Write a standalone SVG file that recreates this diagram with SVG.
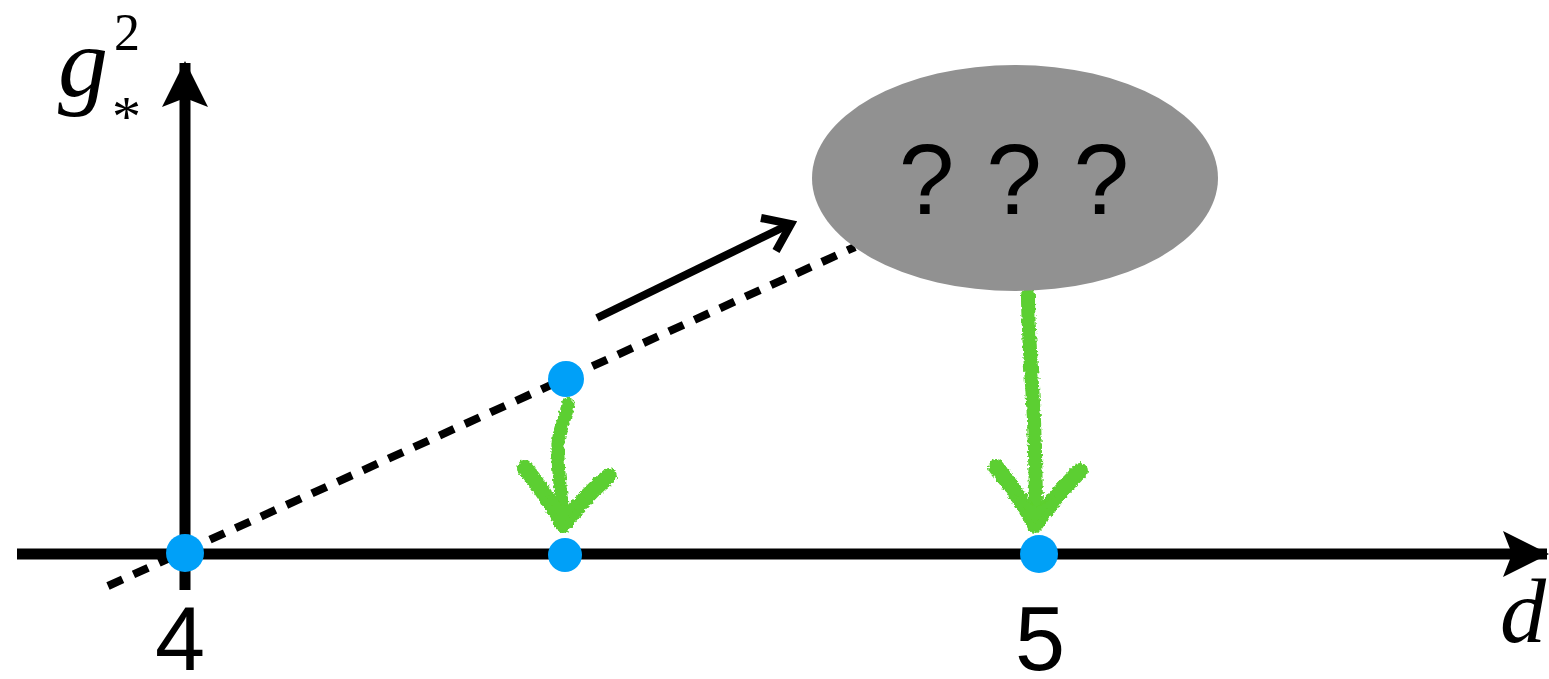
<svg xmlns="http://www.w3.org/2000/svg" width="1549" height="679" viewBox="0 0 1549 679">
  <style>
    .axis { stroke: #000; stroke-width: 11; fill: none; }
    .dot { fill: #00A0F8; }
    .chalk { stroke: #5CCF30; fill: none; stroke-linecap: round; stroke-linejoin: round; }
    .chalk-fill { fill: #5CCF30; }
    .math { font-family: "Liberation Serif", "DejaVu Serif", serif; fill: #000; }
    .it { font-style: italic; }
    .num { font-family: "Liberation Sans", Arial, sans-serif; fill: #000; }
  </style>
  <defs>
    <marker id="axisHead" viewBox="0 0 46 46" refX="44" refY="23" markerUnits="userSpaceOnUse" markerWidth="46" markerHeight="46" orient="auto">
      <path d="M0,0 L46,23 L0,46 L9,23 Z" fill="#000"/>
    </marker>
    <filter id="rough" x="-20%" y="-20%" width="140%" height="140%">
      <feTurbulence type="fractalNoise" baseFrequency="0.35" numOctaves="2" seed="3" result="n"/>
      <feDisplacementMap in="SourceGraphic" in2="n" scale="5" xChannelSelector="R" yChannelSelector="G"/>
    </filter>
  </defs>

  <!-- axes -->
  <g id="axes">
    <line class="axis" x1="17" y1="554" x2="1547" y2="554" marker-end="url(#axisHead)"/>
    <line class="axis" x1="185" y1="590" x2="185" y2="63" marker-end="url(#axisHead)"/>
  </g>

  <!-- connectors -->
  <g id="connectors">
    <line x1="108" y1="586" x2="855" y2="247" stroke="#000" stroke-width="8" stroke-dasharray="16 12"/>
    <g stroke="#000" stroke-width="8" fill="none" stroke-linecap="butt" stroke-linejoin="miter">
      <line x1="597" y1="318" x2="790" y2="224"/>
      <polyline points="761,218 791,224 776,251"/>
    </g>
    <g filter="url(#rough)">
      <path class="chalk" stroke-width="13" d="M568,404 C566,420 558,430 558,445 C557,470 562,495 563,522"/>
      <path class="chalk" stroke-width="16" d="M525,468 C540,486 552,505 563,525 C578,505 594,488 609,476"/>
      <path class="chalk-fill" d="M545,494 L563,525 L585,496 L565,506 Z"/>
      <path class="chalk" stroke-width="14" d="M1028,295 C1028,330 1032,380 1034,420 C1035,450 1036,480 1036,518"/>
      <path class="chalk" stroke-width="16" d="M996,467 C1012,486 1025,505 1035,525 C1048,505 1065,486 1080,471"/>
      <path class="chalk-fill" d="M1015,494 L1035,525 L1057,496 L1036,507 Z"/>
    </g>
  </g>

  <!-- unknown region -->
  <g id="unknown">
    <ellipse cx="1015" cy="178" rx="203" ry="113" fill="#919191"/>
    <text x="1015" y="214" text-anchor="middle" class="num" font-size="100" letter-spacing="2">? ? ?</text>
  </g>

  <!-- fixed points -->
  <g id="point-origin"><circle class="dot" cx="185" cy="553" r="19"/></g>
  <g id="point-mid-axis"><circle class="dot" cx="565" cy="555" r="17"/></g>
  <g id="point-mid-line"><circle class="dot" cx="566" cy="379" r="18"/></g>
  <g id="point-five"><circle class="dot" cx="1039" cy="554" r="19"/></g>

  <!-- labels -->
  <g id="labels">
    <text x="180" y="670" text-anchor="middle" class="num" font-size="90">4</text>
    <text x="1040" y="670" text-anchor="middle" class="num" font-size="90">5</text>
    <text x="58" y="96" class="math it" font-size="100">g</text>
    <text x="114" y="50" class="math" font-size="52">2</text>
    <text x="112" y="136" class="math" font-size="58">*</text>
    <text x="1500" y="642" class="math it" font-size="92">d</text>
  </g>
</svg>
